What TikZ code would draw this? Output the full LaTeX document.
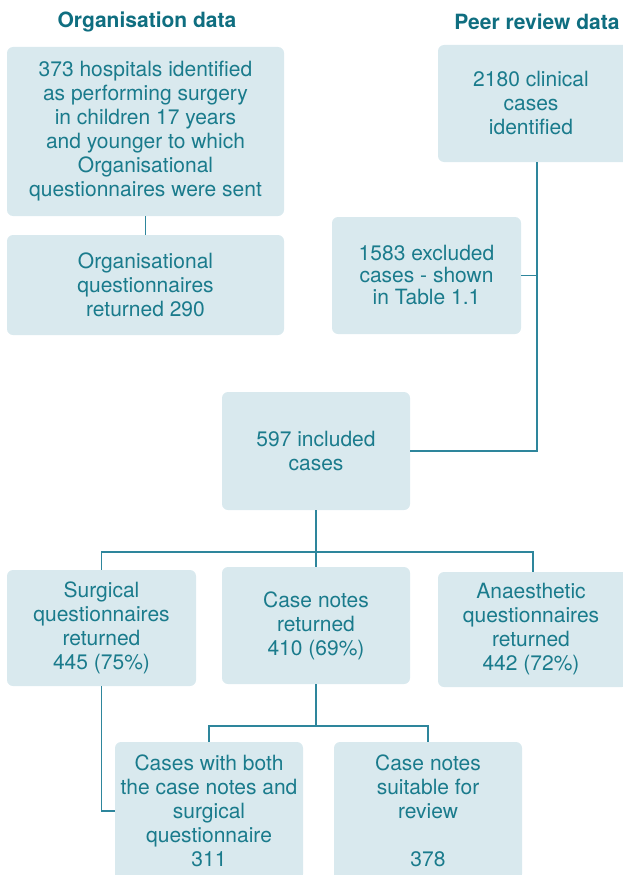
\documentclass[tikz,border=0pt]{standalone}
\usepackage{fontspec}
\setmainfont{TeX Gyre Heros}
\usetikzlibrary{calc}
\usetikzlibrary{positioning}
\definecolor{boxfill}{HTML}{D9E9EE}
\definecolor{boxtext}{HTML}{1A7B8C}
\definecolor{linkcol}{HTML}{2E869C}
\definecolor{headcol}{HTML}{0F6E80}
\tikzstyle{databox} = [fill=boxfill, rounded corners=6pt, text=boxtext, align=center, inner sep=0pt, font=\fontsize{21}{24}\selectfont]
\tikzstyle{headnode} = [text=headcol, font=\fontsize{21}{24}\selectfont\bfseries]
\tikzstyle{link} = [draw=linkcol, line width=1.5pt]

\begin{document}
\begin{tikzpicture}[x=1pt, y=-1pt]
  \useasboundingbox (0,0) rectangle (622,875);

  \node[headnode] (orghead) at (147,22) {Organisation data};
  \node[headnode] (peerhead) at (537,22) {Peer review data};

  \node[databox, minimum width=277pt, minimum height=169pt] (hosp) at (145.5,131.5)
    {373 hospitals identified\\as performing surgery\\in children 17 years\\and younger to which\\Organisational\\questionnaires were sent};
  \node[databox, minimum width=277pt, minimum height=100pt] (orgret) at (145.5,285)
    {Organisational\\questionnaires\\returned 290};
  \node[databox, minimum width=198pt, minimum height=117pt] (clin) at (537,103.5)
    {\hspace*{-12pt}2180 clinical\\\hspace*{-12pt}cases\\\hspace*{-12pt}identified};
  \node[databox, minimum width=189pt, minimum height=117pt, font=\fontsize{21}{22}\selectfont] (excl) at (426.5,275.5)
    {1583 excluded\\cases - shown\\in Table 1.1};
  \node[databox, minimum width=188pt, minimum height=118pt] (incl) at (316,451)
    {597 included\\cases};

  \node[databox, minimum width=189pt, minimum height=116pt] (surg) at (101.5,628)
    {Surgical\\questionnaires\\returned\\445 (75\%)};
  \node[databox, minimum width=188pt, minimum height=117pt] (notes) at (316,625.5)
    {Case notes\\returned\\410 (69\%)};
  \node[databox, minimum width=190pt, minimum height=115pt] (anaes) at (533,629.5)
    {\hspace*{-4pt}Anaesthetic\\\hspace*{-4pt}questionnaires\\\hspace*{-4pt}returned\\\hspace*{-4pt}442 (72\%)};

  \node[databox, minimum width=188pt, minimum height=138pt] (both) at (209,811)
    {Cases with both\\the case notes and\\surgical\\questionnaire\\311};
  \node[databox, minimum width=188pt, minimum height=138pt] (suit) at (428,811)
    {Case notes\\suitable for\\review\\ \\378};

  \coordinate (fork) at (316,552);
  \coordinate (subfork) at (316,726);

  \draw[link] (hosp) -- (orgret);
  \draw[link] (clin.south) |- (incl.east);
  \draw[link] (excl.east) -- (excl.east -| clin.south);
  \draw[link] (incl) -- (fork);
  \draw[link] (surg.north) |- (fork) -| (anaes.north);
  \draw[link] (fork) -- (notes);
  \draw[link] (notes) -- (subfork);
  \draw[link] (both.north) |- (subfork) -| (suit.north);
  \draw[link] (surg.south) |- (both.west);
\end{tikzpicture}
\end{document}
